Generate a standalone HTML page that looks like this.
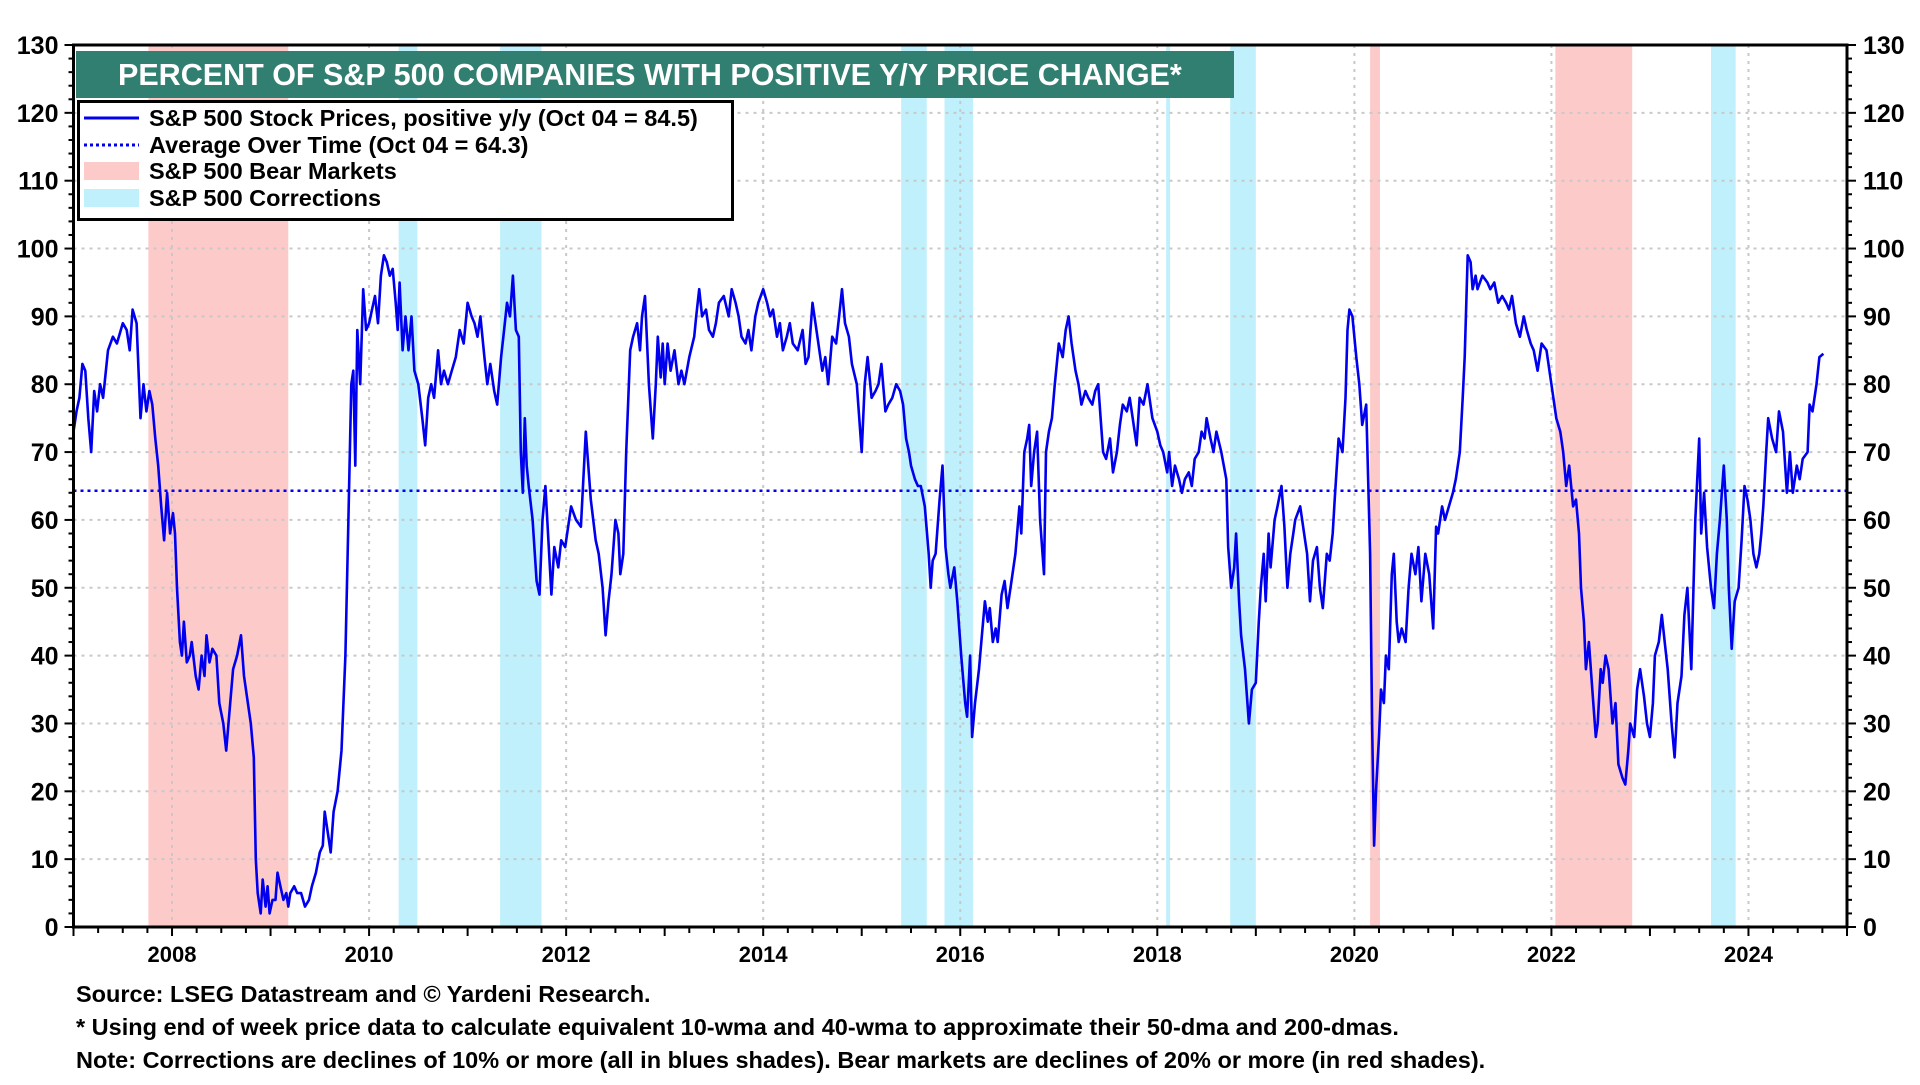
<!DOCTYPE html>
<html><head><meta charset="utf-8">
<style>
html,body{margin:0;padding:0;background:#fff;}
body{width:1920px;height:1080px;overflow:hidden;font-family:"Liberation Sans",Arial,sans-serif;}
svg text{font-family:"Liberation Sans",Arial,sans-serif;font-weight:bold;}
</style></head>
<body>
<svg id="chart" width="1920" height="1080" viewBox="0 0 1920 1080" xmlns="http://www.w3.org/2000/svg">
<g id="shades"></g>
<g id="grid"></g>
<g id="avg"></g>
<g id="series"></g>
<g id="axes"></g>
<g>
<rect x="76" y="51" width="1158" height="47" fill="#317f70"/>
<text x="118" y="85" font-size="30.5" fill="#fff">PERCENT OF S&amp;P 500 COMPANIES WITH POSITIVE Y/Y PRICE CHANGE*</text>
</g>
<g>
<rect x="78.5" y="101.5" width="654" height="118" fill="#fff" stroke="#000" stroke-width="3"/>
<g>
<line x1="84" y1="118" x2="139" y2="118" stroke="#0000ee" stroke-width="3"/>
<text x="149" y="126" font-size="23.5">S&amp;P 500 Stock Prices, positive y/y (Oct 04 = 84.5)</text></g>
<g>
<line x1="84" y1="145" x2="139" y2="145" stroke="#0000ee" stroke-width="3" stroke-dasharray="3,3"/>
<text x="149" y="153" font-size="23.5">Average Over Time (Oct 04 = 64.3)</text></g>
<g>
<rect x="84" y="162" width="55" height="18" fill="#fdcaca"/>
<text x="149" y="179" font-size="23.5">S&amp;P 500 Bear Markets</text></g>
<g>
<rect x="84" y="189" width="55" height="18" fill="#bff0fc"/>
<text x="149" y="206" font-size="23.5">S&amp;P 500 Corrections</text></g>
</g>
<g>
<text x="76" y="1002" font-size="23.5">Source: LSEG Datastream and © Yardeni Research.</text>
<text x="76" y="1035" font-size="23.5">* Using end of week price data to calculate equivalent 10-wma and 40-wma to approximate their 50-dma and 200-dmas.</text>
<text x="76" y="1068" font-size="23.5">Note: Corrections are declines of 10% or more (all in blues shades). Bear markets are declines of 20% or more (in red shades).</text>
</g>
</svg>
<script>
const yTicks=[0,10,20,30,40,50,60,70,80,90,100,110,120,130];
const xYears=[2008,2010,2012,2014,2016,2018,2020,2022,2024];
const bearStarts=[2007.76,2020.16,2022.04];
const bearEnds=[2009.18,2020.26,2022.82];
const corrStarts=[2010.30,2011.33,2015.40,2015.84,2018.09,2018.74,2023.62];
const corrEnds=[2010.49,2011.75,2015.66,2016.13,2018.13,2019.00,2023.87];
const averageValue=64.3;
const dates=[2007.00,2007.03,2007.06,2007.09,2007.12,2007.15,2007.18,2007.21,2007.24,2007.27,2007.30,2007.35,2007.40,2007.44,2007.50,2007.54,2007.57,2007.60,2007.64,2007.68,2007.71,2007.74,2007.77,2007.80,2007.83,2007.86,2007.89,2007.92,2007.95,2007.98,2008.01,2008.03,2008.05,2008.08,2008.10,2008.12,2008.15,2008.18,2008.20,2008.24,2008.27,2008.30,2008.33,2008.35,2008.38,2008.41,2008.45,2008.48,2008.52,2008.55,2008.59,2008.62,2008.66,2008.70,2008.73,2008.76,2008.80,2008.83,2008.85,2008.87,2008.90,2008.92,2008.95,2008.97,2008.99,2009.02,2009.05,2009.07,2009.10,2009.13,2009.16,2009.18,2009.20,2009.24,2009.27,2009.31,2009.35,2009.39,2009.42,2009.46,2009.50,2009.53,2009.55,2009.58,2009.61,2009.64,2009.68,2009.72,2009.76,2009.79,2009.82,2009.84,2009.86,2009.88,2009.91,2009.94,2009.97,2010.00,2010.03,2010.06,2010.09,2010.12,2010.15,2010.18,2010.21,2010.24,2010.27,2010.29,2010.31,2010.34,2010.37,2010.40,2010.43,2010.46,2010.50,2010.54,2010.57,2010.60,2010.63,2010.66,2010.70,2010.73,2010.76,2010.80,2010.84,2010.88,2010.92,2010.96,2011.00,2011.04,2011.07,2011.10,2011.13,2011.17,2011.20,2011.23,2011.27,2011.30,2011.34,2011.37,2011.40,2011.43,2011.46,2011.49,2011.52,2011.54,2011.56,2011.58,2011.60,2011.62,2011.66,2011.70,2011.73,2011.76,2011.79,2011.82,2011.85,2011.88,2011.92,2011.95,2011.99,2012.05,2012.10,2012.15,2012.20,2012.25,2012.30,2012.33,2012.37,2012.40,2012.43,2012.46,2012.50,2012.53,2012.55,2012.58,2012.61,2012.65,2012.68,2012.72,2012.75,2012.77,2012.80,2012.84,2012.88,2012.91,2012.93,2012.96,2012.98,2013.00,2013.03,2013.06,2013.10,2013.14,2013.17,2013.20,2013.25,2013.30,2013.32,2013.35,2013.38,2013.42,2013.45,2013.49,2013.52,2013.55,2013.60,2013.65,2013.68,2013.72,2013.75,2013.78,2013.82,2013.85,2013.88,2013.92,2013.95,2014.00,2014.04,2014.07,2014.10,2014.14,2014.17,2014.20,2014.24,2014.27,2014.30,2014.35,2014.40,2014.43,2014.46,2014.50,2014.55,2014.60,2014.63,2014.66,2014.70,2014.74,2014.77,2014.80,2014.83,2014.87,2014.90,2014.95,2015.00,2015.03,2015.06,2015.10,2015.14,2015.17,2015.20,2015.24,2015.27,2015.31,2015.35,2015.39,2015.42,2015.45,2015.48,2015.50,2015.54,2015.57,2015.60,2015.64,2015.68,2015.70,2015.72,2015.75,2015.79,2015.82,2015.85,2015.88,2015.90,2015.94,2015.97,2016.01,2016.05,2016.07,2016.10,2016.12,2016.15,2016.19,2016.22,2016.25,2016.28,2016.30,2016.33,2016.36,2016.38,2016.42,2016.45,2016.48,2016.52,2016.56,2016.60,2016.62,2016.65,2016.68,2016.70,2016.72,2016.75,2016.78,2016.81,2016.85,2016.87,2016.90,2016.93,2016.96,2017.00,2017.04,2017.07,2017.10,2017.13,2017.17,2017.20,2017.23,2017.27,2017.30,2017.34,2017.37,2017.40,2017.43,2017.45,2017.48,2017.52,2017.55,2017.59,2017.62,2017.65,2017.69,2017.72,2017.75,2017.79,2017.82,2017.86,2017.90,2017.95,2018.00,2018.03,2018.06,2018.10,2018.12,2018.15,2018.18,2018.22,2018.25,2018.28,2018.32,2018.35,2018.38,2018.42,2018.45,2018.48,2018.50,2018.54,2018.57,2018.60,2018.65,2018.70,2018.72,2018.75,2018.78,2018.80,2018.83,2018.85,2018.89,2018.93,2018.96,2019.00,2019.03,2019.05,2019.08,2019.10,2019.13,2019.15,2019.19,2019.22,2019.26,2019.29,2019.32,2019.35,2019.38,2019.40,2019.45,2019.50,2019.52,2019.55,2019.58,2019.62,2019.65,2019.68,2019.72,2019.75,2019.78,2019.80,2019.84,2019.88,2019.91,2019.93,2019.95,2019.98,2020.02,2020.05,2020.08,2020.12,2020.16,2020.18,2020.20,2020.22,2020.25,2020.27,2020.30,2020.32,2020.35,2020.38,2020.40,2020.43,2020.45,2020.48,2020.52,2020.55,2020.58,2020.62,2020.65,2020.68,2020.72,2020.76,2020.80,2020.83,2020.85,2020.89,2020.92,2020.96,2021.00,2021.03,2021.07,2021.10,2021.12,2021.15,2021.18,2021.20,2021.23,2021.25,2021.30,2021.35,2021.38,2021.42,2021.46,2021.50,2021.54,2021.57,2021.60,2021.64,2021.68,2021.72,2021.75,2021.79,2021.82,2021.86,2021.90,2021.95,2022.00,2022.05,2022.09,2022.12,2022.15,2022.18,2022.22,2022.25,2022.28,2022.30,2022.33,2022.35,2022.38,2022.42,2022.45,2022.47,2022.50,2022.52,2022.55,2022.58,2022.62,2022.65,2022.68,2022.72,2022.75,2022.78,2022.80,2022.84,2022.87,2022.90,2022.94,2022.97,2023.00,2023.03,2023.05,2023.09,2023.12,2023.15,2023.18,2023.22,2023.25,2023.28,2023.32,2023.35,2023.38,2023.42,2023.46,2023.50,2023.52,2023.55,2023.58,2023.62,2023.65,2023.68,2023.71,2023.75,2023.78,2023.80,2023.83,2023.86,2023.90,2023.93,2023.96,2023.99,2024.02,2024.05,2024.08,2024.11,2024.13,2024.15,2024.18,2024.20,2024.24,2024.28,2024.31,2024.35,2024.39,2024.42,2024.45,2024.49,2024.52,2024.55,2024.60,2024.62,2024.65,2024.69,2024.72,2024.76];
const values=[73,76,78,83,82,75,70,79,76,80,78,85,87,86,89,88,85,91,89,75,80,76,79,77,72,68,62,57,64,58,61,58,50,42,40,45,39,40,42,37,35,40,37,43,39,41,40,33,30,26,33,38,40,43,37,34,30,25,10,5,2,7,3,6,2,4,4,8,6,4,5,3,5,6,5,5,3,4,6,8,11,12,17,14,11,17,20,26,40,60,80,82,68,88,80,94,88,89,91,93,89,96,99,98,96,97,92,88,95,85,90,85,90,82,80,75,71,78,80,78,85,80,82,80,82,84,88,86,92,90,89,87,90,84,80,83,79,77,84,88,92,90,96,88,87,70,64,75,68,65,60,51,49,60,65,57,49,56,53,57,56,62,60,59,73,63,57,55,50,43,48,52,60,58,52,55,70,85,87,89,85,90,93,80,72,80,87,81,86,80,86,82,85,80,82,80,84,87,90,94,90,91,88,87,89,92,93,90,94,92,90,87,86,88,85,90,92,94,92,90,91,87,89,85,87,89,86,85,88,83,84,92,87,82,84,80,87,86,90,94,89,87,83,80,70,80,84,78,79,80,83,76,77,78,80,79,77,72,70,68,66,65,65,62,55,50,54,55,63,68,56,52,50,53,48,40,33,31,40,28,33,38,43,48,45,47,42,44,42,49,51,47,51,55,62,58,70,72,74,65,70,73,60,52,70,73,75,80,86,84,88,90,86,82,80,77,79,78,77,79,80,74,70,69,72,67,70,74,77,76,78,75,71,78,77,80,75,73,71,70,67,70,65,68,66,64,66,67,65,69,70,73,72,75,72,70,73,70,66,56,50,53,58,48,43,38,30,35,36,45,50,55,48,58,53,60,62,65,59,50,55,58,60,62,57,55,48,54,56,50,47,55,54,58,63,72,70,78,88,91,90,84,80,74,77,55,30,12,20,28,35,33,40,38,52,55,45,42,44,42,50,55,52,56,48,55,52,44,59,58,62,60,62,64,66,70,78,84,99,98,94,96,94,96,95,94,95,92,93,92,91,93,89,87,90,88,86,85,82,86,85,80,75,73,70,65,68,62,63,58,50,45,38,42,34,28,30,38,36,40,38,30,33,24,22,21,26,30,28,35,38,34,30,28,33,40,42,46,42,38,30,25,33,37,46,50,38,60,72,58,64,56,50,47,55,60,68,60,50,41,48,50,57,65,63,60,55,53,55,58,62,70,75,72,70,76,73,64,70,64,68,66,69,70,77,76,80,84,84.5];

const NS='http://www.w3.org/2000/svg';
const L=73.5,R=1847,T=45,B=927;
const X0=2007,X1=2025,Y0=0,Y1=130;
function xs(v){return L+(v-X0)/(X1-X0)*(R-L);}
function ys(v){return B-(v-Y0)/(Y1-Y0)*(B-T);}
function mk(tag,attrs,parent){const e=document.createElementNS(NS,tag);for(const k in attrs)e.setAttribute(k,attrs[k]);parent.appendChild(e);return e;}

const shades=document.getElementById('shades');
bearStarts.forEach((s,i)=>{
  const r=mk('rect',{x:xs(s),y:T,width:xs(bearEnds[i])-xs(s),height:B-T,fill:'#fdcaca'},shades);
  
  
});
corrStarts.forEach((s,i)=>{
  const r=mk('rect',{x:xs(s),y:T,width:xs(corrEnds[i])-xs(s),height:B-T,fill:'#bff0fc'},shades);
  
  
});

const grid=document.getElementById('grid');
yTicks.forEach(t=>{
  if(t===0||t===130)return;
  const g=mk('line',{x1:L,x2:R,y1:ys(t),y2:ys(t),stroke:'#c8c8c8','stroke-width':2,'stroke-dasharray':'3,5'},grid);
  
  
});
xYears.forEach(t=>{
  const g=mk('line',{x1:xs(t),x2:xs(t),y1:T,y2:B,stroke:'#c8c8c8','stroke-width':2,'stroke-dasharray':'3,5'},grid);
  
  
});

const avg=document.getElementById('avg');
const al=mk('line',{x1:L,x2:R,y1:ys(averageValue),y2:ys(averageValue),stroke:'#0000ee','stroke-width':2.5,'stroke-dasharray':'3,4'},avg);



const series=document.getElementById('series');
let d='';
dates.forEach((t,i)=>{d+=(i?'L':'M')+xs(t).toFixed(1)+','+ys(values[i]).toFixed(1);});
const pl=mk('path',{d:d,fill:'none',stroke:'#0000ee','stroke-width':2.6,'stroke-linejoin':'round'},series);



const axes=document.getElementById('axes');
const frame=mk('rect',{x:L,y:T,width:R-L,height:B-T,fill:'none',stroke:'#000','stroke-width':3},axes);


for(let v=0;v<=130;v+=2){
  const major=v%10===0;
  const len=major?9:5;
  mk('line',{x1:L-len,x2:L,y1:ys(v),y2:ys(v),stroke:'#000','stroke-width':2},axes);
  mk('line',{x1:R,x2:R+len,y1:ys(v),y2:ys(v),stroke:'#000','stroke-width':2},axes);
}
yTicks.forEach(t=>{
  const a=mk('text',{x:L-15,y:ys(t)+9,'font-size':25,'text-anchor':'end'},axes);
  a.textContent=t;
  
  
  const b=mk('text',{x:R+16,y:ys(t)+9,'font-size':25,'text-anchor':'start'},axes);
  b.textContent=t;
  
  
});
for(let q=X0*4;q<=X1*4;q++){
  const yr=q/4;const major=(q%4===0);
  mk('line',{x1:xs(yr),x2:xs(yr),y1:B,y2:B+(major?9:6),stroke:'#000','stroke-width':2},axes);
}
xYears.forEach(t=>{
  const a=mk('text',{x:xs(t),y:B+35,'font-size':22,'text-anchor':'middle'},axes);
  a.textContent=t;
  
  
});
</script>
</body></html>
